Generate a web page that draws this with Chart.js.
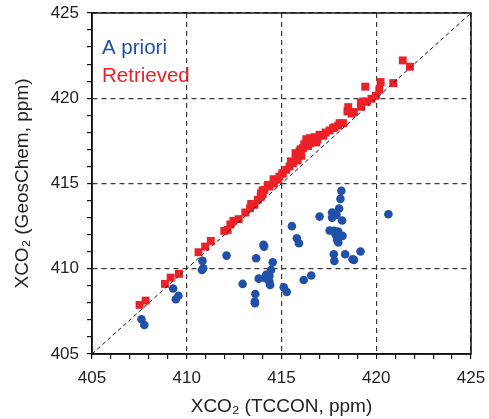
<!DOCTYPE html>
<html>
<head>
<meta charset="utf-8">
<script src="https://cdn.jsdelivr.net/npm/chart.js@4.4.0/dist/chart.umd.min.js"></script>
<style>
  html, body { margin: 0; padding: 0; background: #fff; }
  #wrap { width: 489px; height: 419px; }
</style>
</head>
<body>
<div id="wrap"><canvas id="xco2-chart" width="489" height="419"></canvas></div>
<script>
// A priori (blue) - TCCON vs GeosChem
const aprioriX = [407.61, 407.76, 409.28, 409.56, 409.42, 410.83, 410.87, 410.80, 412.10, 412.95,
  413.66, 414.05, 414.08, 414.54, 413.80, 413.62, 413.59, 413.60, 414.19, 414.28,
  414.36, 414.45, 414.36, 414.40, 414.15, 415.12, 415.28, 416.17, 416.57, 415.55,
  415.81, 415.92, 417.01, 417.67, 417.67, 417.90, 418.16, 418.11, 418.04, 418.20,
  417.54, 417.76, 417.99, 417.86, 418.07, 418.22, 417.93, 418.00, 420.64, 417.76,
  417.79, 418.36, 418.75, 418.82, 419.17];
const aprioriY = [407.04, 406.70, 408.84, 408.42, 408.21, 410.46, 410.03, 409.93, 410.77, 409.11,
  410.62, 411.40, 411.30, 410.38, 409.42, 408.52, 408.07, 407.98, 409.64, 409.44,
  409.58, 409.93, 409.25, 409.05, 409.44, 408.91, 408.64, 409.34, 409.60, 412.50,
  411.79, 411.50, 413.06, 413.30, 413.00, 413.16, 414.57, 414.10, 413.53, 412.83,
  412.24, 412.22, 412.18, 411.99, 411.93, 411.93, 411.69, 411.54, 413.20, 410.85,
  410.46, 410.85, 410.56, 410.52, 411.01];

// Retrieved (red)
const retrievedX = [407.51, 407.83, 408.85, 409.15, 409.59, 410.62, 410.97, 411.27, 411.98, 412.16,
  412.46, 412.74, 413.09, 413.34, 413.57, 413.75, 413.92, 414.01, 414.10, 414.28,
  414.36, 414.58, 414.81, 414.89, 415.04, 415.07, 415.25, 415.42, 415.60, 415.74,
  415.78, 415.95, 416.04, 416.13, 416.31, 416.49, 416.52, 416.66, 416.75, 416.84,
  417.01, 417.33, 417.54, 417.72, 418.07, 418.25, 418.48, 418.52, 418.82, 419.19,
  419.31, 419.42, 419.75, 419.98, 420.16, 420.23, 420.90, 421.40, 421.78,
  415.50, 415.90, 416.20, 416.40, 416.90, 417.20, 417.80, 418.00, 414.60, 414.00,
  413.40, 413.90, 412.30, 419.20, 419.50, 418.70, 416.00, 415.85];
const retrievedY = [407.88, 408.13, 409.11, 409.48, 409.70, 410.97, 411.30, 411.63, 412.22, 412.28,
  412.81, 412.91, 413.30, 413.55, 413.75, 414.04, 414.43, 414.43, 414.63, 414.92,
  414.82, 415.25, 415.22, 415.41, 415.57, 415.61, 415.80, 416.00, 416.19, 416.78,
  416.59, 416.88, 416.62, 417.07, 417.60, 417.66, 417.37, 417.47, 417.72, 417.41,
  417.86, 417.99, 418.11, 418.25, 418.54, 418.54, 419.23, 419.48, 419.19, 419.72,
  419.81, 420.68, 419.97, 420.15, 420.50, 420.95, 420.89, 422.22, 421.85,
  416.30, 416.60, 417.30, 417.20, 417.60, 417.80, 418.30, 418.40, 415.00, 414.60,
  413.80, 414.20, 412.60, 419.50, 419.80, 419.10, 417.00, 416.35];

// 1:1 line
const oneToOne = [405, 425];

const axisMin = 405;
const axisMax = 425;

const toPoints = (xs, ys) => xs.map((x, i) => ({ x: x, y: ys[i] }));

const framePlugin = {
  id: 'frame',
  afterDraw(chart) {
    const { ctx, chartArea: a } = chart;
    ctx.save();
    ctx.strokeStyle = '#111';
    ctx.lineWidth = 1.5;
    ctx.strokeRect(a.left, a.top, a.right - a.left, a.bottom - a.top);
    ctx.restore();
  }
};

const labelPlugin = {
  id: 'seriesText',
  afterDraw(chart) {
    const ctx = chart.ctx;
    ctx.save();
    ctx.font = '20.5px "Liberation Sans", Arial, sans-serif';
    ctx.textBaseline = 'alphabetic';
    ctx.fillStyle = '#2150a8';
    ctx.fillText('A priori', 102, 54);
    ctx.fillStyle = '#ec2027';
    ctx.fillText('Retrieved', 102, 82);
    ctx.restore();
  }
};

const gridColor = (c) => (c.tick && c.tick.value % 5 === 0) ? '#3a3a3a' : 'rgba(0,0,0,0)';

const ctx = document.getElementById('xco2-chart').getContext('2d');
new Chart(ctx, {
  type: 'scatter',
  data: {
    datasets: [
      {
        label: '1:1',
        type: 'line',
        data: toPoints(oneToOne, oneToOne),
        borderColor: '#111',
        borderWidth: 1,
        borderDash: [4, 3],
        pointRadius: 0,
        fill: false,
        order: 0
      },
      {
        label: 'Retrieved',
        data: toPoints(retrievedX, retrievedY),
        pointStyle: 'rect',
        pointRadius: 5.6,
        backgroundColor: '#ec2027',
        borderColor: '#ec2027',
        borderWidth: 0,
        order: 1
      },
      {
        label: 'A priori',
        data: toPoints(aprioriX, aprioriY),
        pointStyle: 'circle',
        pointRadius: 4.3,
        backgroundColor: '#2150a8',
        borderColor: '#2150a8',
        borderWidth: 0,
        order: 2
      }
    ]
  },
  options: {
    responsive: false,
    animation: false,
    layout: { autoPadding: false, padding: { left: 0, right: 18, top: 13, bottom: 0 } },
    plugins: { legend: { display: false }, tooltip: { enabled: false } },
    scales: {
      x: {
        type: 'linear',
        min: axisMin,
        max: axisMax,
        afterFit: (s) => { s.height = 65; s.paddingLeft = 0; s.paddingRight = 0; },
        ticks: {
          stepSize: 1,
          autoSkip: false,
          maxRotation: 0,
          padding: 9,
          color: '#222',
          font: { family: '"Liberation Sans", Arial, sans-serif', size: 17 },
          callback: (v) => v % 5 === 0 ? v : ''
        },
        grid: { color: gridColor, lineWidth: 1.2, tickLength: 5, tickColor: '#111' },
        border: { color: '#111', width: 1.5, dash: [5, 4] },
        title: {
          display: true,
          text: 'XCO₂ (TCCON, ppm)',
          color: '#222',
          font: { family: '"Liberation Sans", Arial, sans-serif', size: 19 },
          padding: { top: 0, bottom: 1 }
        }
      },
      y: {
        type: 'linear',
        min: axisMin,
        max: axisMax,
        afterFit: (s) => { s.width = 92; s.paddingTop = 0; s.paddingBottom = 0; },
        ticks: {
          stepSize: 1,
          autoSkip: false,
          padding: 8,
          color: '#222',
          font: { family: '"Liberation Sans", Arial, sans-serif', size: 17 },
          callback: (v) => v % 5 === 0 ? v : ''
        },
        grid: { color: gridColor, lineWidth: 1.2, tickLength: 5, tickColor: '#111' },
        border: { color: '#111', width: 1.5, dash: [5, 4] },
        title: {
          display: true,
          text: 'XCO₂ (GeosChem, ppm)',
          color: '#222',
          font: { family: '"Liberation Sans", Arial, sans-serif', size: 19 },
          padding: { top: 11, bottom: 0 }
        }
      }
    }
  },
  plugins: [framePlugin, labelPlugin]
});
</script>
</body>
</html>
